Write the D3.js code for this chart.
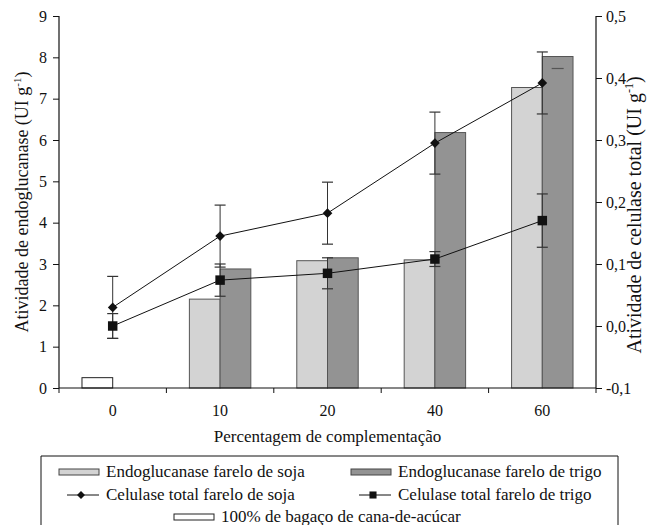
<!DOCTYPE html>
<html><head><meta charset="utf-8">
<script src="https://cdn.jsdelivr.net/npm/d3@7"></script>
<style>
body{margin:0;background:#fff;}
</style></head>
<body><svg id="c" width="652" height="525" style="display:block"></svg>
<script>
const categories = ["0","10","20","40","60"];
const bagaco = [0.25, null, null, null, null];
const endoSoja = [null, 2.15, 3.08, 3.10, 7.27];
const endoTrigo = [null, 2.88, 3.15, 6.18, 8.02];
const endoTrigoErrLow = [0, 0, 0, 0, 0.29];
const celSoja = [0.03, 0.145, 0.182, 0.295, 0.392];
const celSojaErr = [0.05, 0.05, 0.05, 0.05, 0.05];
const celTrigo = [0.0, 0.074, 0.085, 0.108, 0.170];
const celTrigoErr = [0.02, 0.026, 0.025, 0.012, 0.043];
const leftTicks = [0,1,2,3,4,5,6,7,8,9];
const rightTicks = [-0.1,0,0.1,0.2,0.3,0.4,0.5];

const FONT = "Liberation Serif";
const svg = d3.select("#c").attr("font-family", FONT);
const L = 59, R = 596, T = 16, B = 388;
const x = d3.scaleBand().domain(categories).range([L, R]).padding(0);
const yL = d3.scaleLinear().domain([0, 9]).range([B, T]);
const yR = d3.scaleLinear().domain([-0.1, 0.5]).range([B, T]);
const bw = x.bandwidth() * 0.286;
const cx = c => x(c) + x.bandwidth() / 2;

const light = "#d3d3d3", dark = "#939393", barStroke = "#555";

const g = svg.append("g");
g.selectAll(".wb").data(categories.map((c,i)=>({c,v:bagaco[i]})).filter(d=>d.v!=null))
 .enter().append("rect").attr("x", d=>cx(d.c)-bw).attr("width", bw)
 .attr("y", d=>yL(d.v)).attr("height", d=>yL(0)-yL(d.v))
 .attr("fill","#fff").attr("stroke","#222").attr("stroke-width",1);
g.selectAll(".ls").data(categories.map((c,i)=>({c,v:endoSoja[i]})).filter(d=>d.v!=null))
 .enter().append("rect").attr("x", d=>cx(d.c)-bw).attr("width", bw)
 .attr("y", d=>yL(d.v)).attr("height", d=>yL(0)-yL(d.v))
 .attr("fill",light).attr("stroke",barStroke).attr("stroke-width",1);
g.selectAll(".dt").data(categories.map((c,i)=>({c,v:endoTrigo[i]})).filter(d=>d.v!=null))
 .enter().append("rect").attr("x", d=>cx(d.c)).attr("width", bw)
 .attr("y", d=>yL(d.v)).attr("height", d=>yL(0)-yL(d.v))
 .attr("fill",dark).attr("stroke",barStroke).attr("stroke-width",1);
categories.forEach((c,i)=>{
  if (endoTrigo[i]!=null && endoTrigoErrLow[i]>0){
    const xc = cx(c)+bw/2, yy = yL(endoTrigo[i]-endoTrigoErrLow[i]);
    g.append("line").attr("x1",xc-6).attr("x2",xc+6).attr("y1",yy).attr("y2",yy)
     .attr("stroke","#555").attr("stroke-width",1.2);
  }
});

function errBars(vals, errs){
  categories.forEach((c,i)=>{
    const xc = cx(c), y1 = yR(vals[i]+errs[i]), y2 = yR(vals[i]-errs[i]);
    g.append("line").attr("x1",xc).attr("x2",xc).attr("y1",y1).attr("y2",y2).attr("stroke","#333").attr("stroke-width",1);
    [y1,y2].forEach(yy=>g.append("line").attr("x1",xc-5.5).attr("x2",xc+5.5).attr("y1",yy).attr("y2",yy).attr("stroke","#333").attr("stroke-width",1.2));
  });
}
errBars(celSoja, celSojaErr);
errBars(celTrigo, celTrigoErr);

const line = d3.line().x((d,i)=>cx(categories[i])).y(d=>yR(d));
g.append("path").attr("d", line(celSoja)).attr("fill","none").attr("stroke","#111").attr("stroke-width",1);
g.append("path").attr("d", line(celTrigo)).attr("fill","none").attr("stroke","#111").attr("stroke-width",1);
const diamond = d3.symbol().type(d3.symbolDiamond2).size(60);
const square = d3.symbol().type(d3.symbolSquare).size(90);
g.selectAll(".dm").data(celSoja).enter().append("path").attr("d", diamond)
 .attr("transform",(d,i)=>`translate(${cx(categories[i])},${yR(d)})`).attr("fill","#111");
g.selectAll(".sq").data(celTrigo).enter().append("path").attr("d", square)
 .attr("transform",(d,i)=>`translate(${cx(categories[i])},${yR(d)})`).attr("fill","#111");

const fmtR = d => d3.format(".1f")(d).replace(".", ",").replace("−","-");
const axL = svg.append("g").attr("transform",`translate(${L},0)`)
  .call(d3.axisLeft(yL).tickValues(leftTicks).tickSize(6).tickPadding(6).tickFormat(d3.format("d")));
const axR = svg.append("g").attr("transform",`translate(${R},0)`)
  .call(d3.axisRight(yR).tickValues(rightTicks).tickSize(6).tickPadding(4).tickFormat(fmtR));
const axB = svg.append("g").attr("transform",`translate(0,${B})`)
  .call(d3.axisBottom(x).tickSize(6).tickPadding(11));
axB.selectAll(".tick line").remove();
const bounds = categories.map(c=>x(c)).concat([R]);
axB.selectAll(".bt").data(bounds).enter().append("line").attr("x1",d=>d).attr("x2",d=>d).attr("y1",0).attr("y2",5).attr("stroke","#111");
[axL,axR,axB].forEach(a=>{
  a.attr("font-family",FONT).attr("font-size",16);
  a.select(".domain").attr("stroke","#111").attr("stroke-width",1.2);
  a.selectAll(".tick line").attr("stroke","#111");
  a.selectAll("text").attr("font-family",FONT).attr("font-size",16).attr("fill","#111");
});
axL.select(".domain").attr("d",`M0,${T}V${B}`);
axR.select(".domain").attr("d",`M0,${T}V${B}`);
axB.select(".domain").attr("d",`M${L},0H${R}`);

const lt = svg.append("text").attr("transform",`translate(28,${(T+B)/2})rotate(-90)`)
 .attr("text-anchor","middle").attr("font-family",FONT).attr("font-size",18).attr("fill","#111");
lt.append("tspan").text("Atividade de endoglucanase (UI g");
lt.append("tspan").attr("font-size",11).attr("dy",-7).text("-1");
lt.append("tspan").attr("dy",7).text(")");
const rt = svg.append("text").attr("transform",`translate(641,215)rotate(-90)`)
 .attr("text-anchor","middle").attr("font-family",FONT).attr("font-size",20).attr("fill","#111");
rt.append("tspan").text("Atividade de celulase total (UI g");
rt.append("tspan").attr("font-size",12).attr("dy",-8).text("-1");
rt.append("tspan").attr("dy",8).text(")");
svg.append("text").attr("x",(L+R)/2).attr("y",442).attr("text-anchor","middle").attr("font-family",FONT)
 .attr("font-size",17).attr("fill","#111").text("Percentagem de complementação");

const lg = svg.append("g");
lg.append("path").attr("d","M41,530V456H618V530").attr("fill","none").attr("stroke","#111").attr("stroke-width",1);
const items = [
  {t:"Endoglucanase farelo de soja", type:"rect", fill:light, x:59, y:472},
  {t:"Endoglucanase farelo de trigo", type:"rect", fill:dark, x:351, y:472},
  {t:"Celulase total farelo de soja", type:"diamond", x:59, y:495},
  {t:"Celulase total farelo de trigo", type:"square", x:351, y:495},
  {t:"100% de bagaço de cana-de-acúcar", type:"rect", fill:"#fff", x:174, y:517}
];
items.forEach(it=>{
  if (it.type==="rect"){
    lg.append("rect").attr("x",it.x).attr("y",it.y-3).attr("width",40).attr("height",6)
      .attr("fill",it.fill).attr("stroke",it.fill==="#fff"?"#222":"#444");
  } else {
    lg.append("line").attr("x1",it.x+8).attr("x2",it.x+40).attr("y1",it.y).attr("y2",it.y).attr("stroke","#111");
    lg.append("path").attr("d", it.type==="diamond"? d3.symbol().type(d3.symbolDiamond2).size(40)() : d3.symbol().type(d3.symbolSquare).size(50)())
      .attr("transform",`translate(${it.x+22},${it.y})`).attr("fill","#111");
  }
  lg.append("text").attr("x",it.x+47).attr("y",it.y+5).attr("font-family",FONT).attr("font-size",17).attr("fill","#111").text(it.t);
});
</script></body></html>
